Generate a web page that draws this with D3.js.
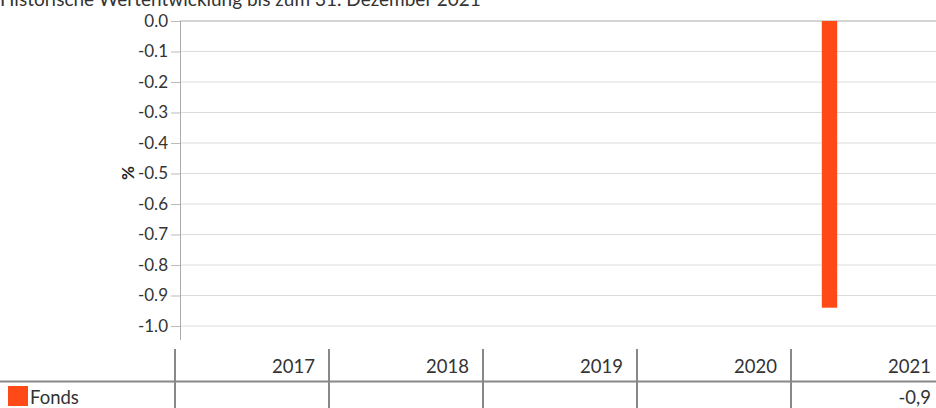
<!DOCTYPE html>
<html><head><meta charset="utf-8">
<script src="https://cdn.jsdelivr.net/npm/d3@7"></script>
<style>
body{margin:0;background:#fff;}
svg{display:block;font-family:Lato,"Open Sans",sans-serif;}
</style></head>
<body><svg id="c" width="936" height="408"></svg>
<script>
const title = "Historische Wertentwicklung bis zum 31. Dezember 2021";
const categories = ["2017","2018","2019","2020","2021"];
const seriesName = "Fonds";
const fondsValues = [null,null,null,null,-0.94];
const tableLabels = ["","","","","-0,9"];
const yTicks = [0,-0.1,-0.2,-0.3,-0.4,-0.5,-0.6,-0.7,-0.8,-0.9,-1.0];
const yLabel = "%";

const svg = d3.select("#c");
const color = "#ff4916";
const textColor = "#333";

const y = d3.scaleLinear().domain([0,-1.0]).range([21,326]);
const x = d3.scaleBand().domain(categories).range([175,945]).padding(0);
const plotLeft = 180, plotRight = 936;

// title
svg.append("text").attr("x",0).attr("y",6).attr("font-size",19).attr("fill",textColor).text(title);

// grid
svg.append("g").selectAll("line").data(yTicks).join("line")
  .attr("x1",plotLeft).attr("x2",plotRight)
  .attr("y1",d=>y(d)).attr("y2",d=>y(d))
  .attr("stroke",d=>d===0?"#a9a9a9":"#dcdcdc").attr("stroke-width",1);

// y axis
const yAxis = d3.axisLeft(y).tickValues(yTicks).tickFormat(d3.format(".1f")).tickSize(9).tickPadding(3);
const ga = svg.append("g").attr("transform",`translate(${plotLeft},0)`).call(yAxis);
ga.select(".domain").remove();
ga.selectAll(".tick line").attr("stroke","#bbb");
ga.selectAll(".tick text").attr("font-size",17).attr("fill",textColor).attr("font-family","Lato,'Open Sans',sans-serif")
  .text(d=>d3.format(".1f")(d).replace("−","-"));
svg.append("line").attr("x1",plotLeft+0.5).attr("x2",plotLeft+0.5).attr("y1",21).attr("y2",340).attr("stroke","#aaa");

svg.append("text").attr("transform","translate(127,173) rotate(-90)").attr("text-anchor","middle")
  .attr("dominant-baseline","central").attr("font-size",17).attr("font-weight","bold").attr("fill","#222").text(yLabel);

// bars
const bars = categories.map((c,i)=>({c,v:fondsValues[i]})).filter(d=>d.v!=null);
svg.append("g").selectAll("rect").data(bars).join("rect")
  .attr("x",d=>x(d.c)+x.bandwidth()*0.2)
  .attr("width",x.bandwidth()*0.1)
  .attr("y",d=>y(Math.max(0,d.v)))
  .attr("height",d=>Math.abs(y(d.v)-y(0)))
  .attr("fill",color);

// table
const tbl = svg.append("g");
tbl.append("line").attr("x1",0).attr("x2",936).attr("y1",381.5).attr("y2",381.5).attr("stroke","#888").attr("stroke-width",2);
tbl.selectAll("line.v").data(categories).join("line").attr("class","v")
  .attr("x1",d=>x(d)).attr("x2",d=>x(d)).attr("y1",349).attr("y2",408)
  .attr("stroke","#888").attr("stroke-width",2);
tbl.selectAll("text.yr").data(categories).join("text").attr("class","yr")
  .attr("x",d=>x(d)+x.bandwidth()-14).attr("y",373).attr("text-anchor","end")
  .attr("font-size",18.5).attr("fill",textColor).text(d=>d);
tbl.selectAll("text.val").data(categories).join("text").attr("class","val")
  .attr("x",d=>x(d)+x.bandwidth()-14).attr("y",404).attr("text-anchor","end")
  .attr("font-size",18.5).attr("fill",textColor).text((d,i)=>tableLabels[i]);
tbl.append("rect").attr("x",8).attr("y",386).attr("width",20).attr("height",20).attr("fill",color);
tbl.append("text").attr("x",30).attr("y",404).attr("font-size",18.5).attr("fill",textColor).text(seriesName);
</script></body></html>
